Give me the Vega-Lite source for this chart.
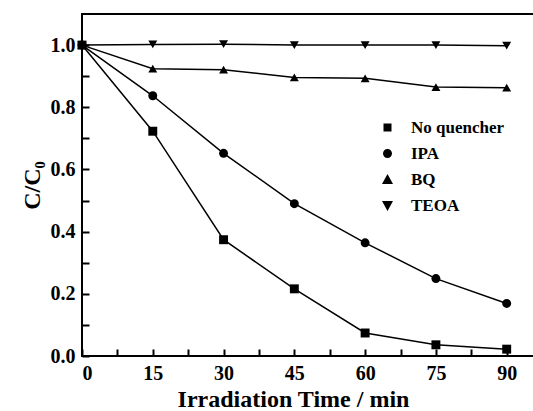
{
  "$schema": "https://vega.github.io/schema/vega-lite/v6.json",
  "autosize": "none",
  "width": 453,
  "height": 342,
  "padding": {"left": 82, "top": 14, "right": 0, "bottom": 55},
  "background": "white",
  "config": {
    "view": {"stroke": "black", "strokeWidth": 2}
  },
  "data": {"values": [
    {"t": 0, "c": 1.0, "s": "No quencher"},
    {"t": 15, "c": 0.723, "s": "No quencher"},
    {"t": 30, "c": 0.374, "s": "No quencher"},
    {"t": 45, "c": 0.216, "s": "No quencher"},
    {"t": 60, "c": 0.074, "s": "No quencher"},
    {"t": 75, "c": 0.036, "s": "No quencher"},
    {"t": 90, "c": 0.022, "s": "No quencher"},
    {"t": 0, "c": 1.0, "s": "IPA"},
    {"t": 15, "c": 0.837, "s": "IPA"},
    {"t": 30, "c": 0.652, "s": "IPA"},
    {"t": 45, "c": 0.49, "s": "IPA"},
    {"t": 60, "c": 0.364, "s": "IPA"},
    {"t": 75, "c": 0.249, "s": "IPA"},
    {"t": 90, "c": 0.169, "s": "IPA"},
    {"t": 0, "c": 1.0, "s": "BQ"},
    {"t": 15, "c": 0.924, "s": "BQ"},
    {"t": 30, "c": 0.921, "s": "BQ"},
    {"t": 45, "c": 0.896, "s": "BQ"},
    {"t": 60, "c": 0.893, "s": "BQ"},
    {"t": 75, "c": 0.865, "s": "BQ"},
    {"t": 90, "c": 0.863, "s": "BQ"},
    {"t": 0, "c": 1.0, "s": "TEOA"},
    {"t": 15, "c": 1.002, "s": "TEOA"},
    {"t": 30, "c": 1.003, "s": "TEOA"},
    {"t": 45, "c": 1.0, "s": "TEOA"},
    {"t": 60, "c": 1.0, "s": "TEOA"},
    {"t": 75, "c": 1.0, "s": "TEOA"},
    {"t": 90, "c": 0.998, "s": "TEOA"}
  ]},
  "encoding": {
    "x": {"field": "t", "type": "quantitative", "scale": {"domain": [0, 96], "nice": false},
      "axis": {"title": "Irradiation Time / min", "values": [0, 7.5, 15, 22.5, 30, 37.5, 45, 52.5, 60, 67.5, 75, 82.5, 90],
        "grid": false, "domain": false, "tickColor": "black", "tickWidth": 2,
        "labelColor": "black", "titleColor": "black", "labelFont": "Liberation Serif", "titleFont": "Liberation Serif", "labelFontWeight": "bold", "titleFontWeight": "bold", "labelFontSize": 20, "titleFontSize": 24,
        "labelExpr": "datum.value % 15 == 0 ? datum.label : ''", "tickSize": -7, "labelPadding": 14, "titleX": 211, "titleY": 50, "titleBaseline": "alphabetic"}},
    "y": {"field": "c", "type": "quantitative", "scale": {"domain": [0, 1.1], "nice": false},
      "axis": {"title": "C/C₀", "values": [0, 0.1, 0.2, 0.3, 0.4, 0.5, 0.6, 0.7, 0.8, 0.9, 1.0],
        "grid": false, "domain": false, "tickColor": "black", "tickWidth": 2,
        "labelColor": "black", "titleColor": "black", "labelFont": "Liberation Serif", "titleFont": "Liberation Serif", "labelFontWeight": "bold", "titleFontWeight": "bold", "labelFontSize": 20, "titleFontSize": 24,
        "labelExpr": "round(datum.value*10) % 2 == 0 ? format(datum.value, '.1f') : ''", "tickSize": -7, "labelPadding": 14, "titlePadding": 6}}
  },
  "layer": [
    {"mark": {"type": "line", "color": "black", "strokeWidth": 1.5}, "encoding": {"detail": {"field": "s"}}},
    {"mark": {"type": "point", "filled": true, "color": "black", "opacity": 1, "size": 80},
      "encoding": {
        "shape": {"field": "s", "type": "nominal", "scale": {"domain": ["No quencher", "IPA", "BQ", "TEOA"], "range": ["square", "circle", "triangle-up", "triangle-down"]}, "legend": null}
      }},
    {"mark": {"type": "point", "filled": false, "fill": "black", "stroke": "black", "strokeWidth": 1.5, "opacity": 0, "size": 100},
      "encoding": {
        "shape": {"field": "s", "type": "nominal",
          "scale": {"domain": ["No quencher", "IPA", "BQ", "TEOA"], "range": ["M-3.7,0H3.7M-0.8,-0.8H0.8V0.8H-0.8Z", "M-3.7,0H3.7M-0.9,0A0.9,0.9,0,1,0,0.9,0A0.9,0.9,0,1,0,-0.9,0Z", "M-3.7,0H3.7M0,-1.1L1.1,0.9L-1.1,0.9Z", "M-3.7,0H3.7M0,1.1L1.1,-0.9L-1.1,-0.9Z"]},
          "legend": {"title": null, "orient": "none", "legendX": 297, "legendY": 105, "padding": 0, "symbolSize": 100, "labelOffset": 15, "rowPadding": 8,
            "labelFont": "Liberation Serif", "labelFontWeight": "bold", "labelFontSize": 17, "labelColor": "black",
            "symbolOpacity": 1, "symbolFillColor": "black", "symbolStrokeColor": "black", "symbolStrokeWidth": 1.5}}
      }}
  ],
  "resolve": {"scale": {"shape": "independent"}}
}
